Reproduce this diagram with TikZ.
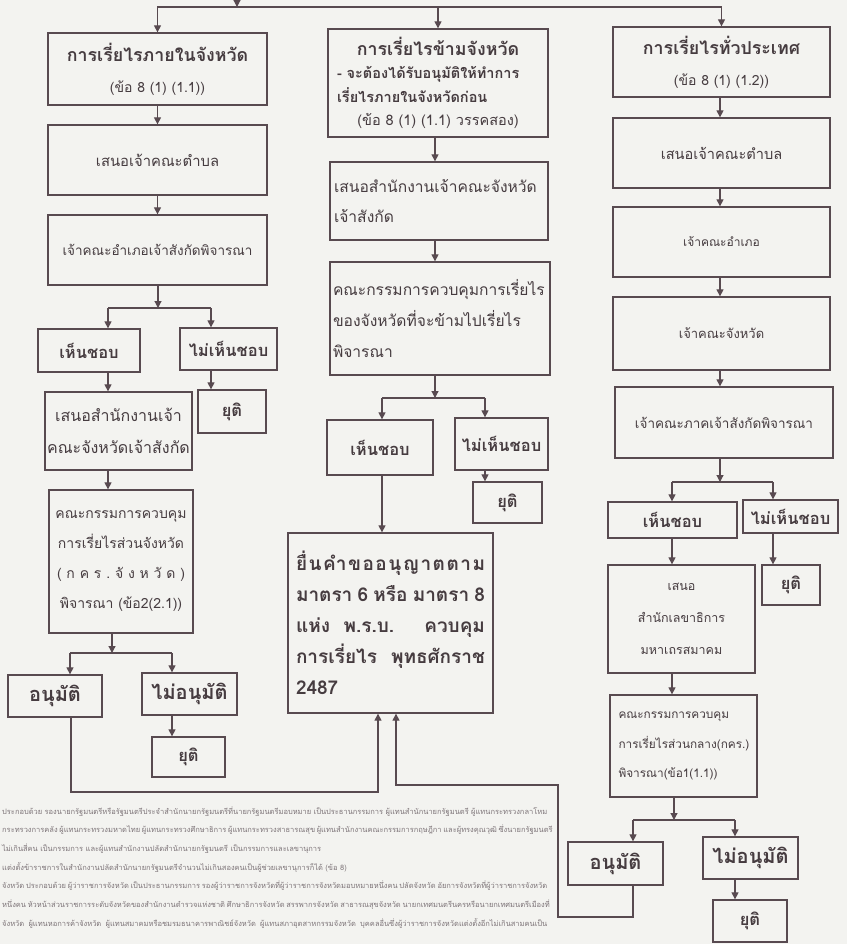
\documentclass[tikz,border=0pt]{standalone}
\usepackage{fontspec}
\newfontfamily\thai[Script=Thai]{Loma}
\usetikzlibrary{arrows.meta}
\definecolor{paper}{RGB}{243,243,240}
\definecolor{ink}{RGB}{70,60,64}
\definecolor{linec}{RGB}{88,74,80}
\definecolor{fine}{RGB}{125,116,120}
\newcommand{\spread}[2]{\makebox[#1][s]{#2}}
\newcommand{\tsize}[2]{\thai\fontsize{#1}{#2}\selectfont}
\tikzset{
  box/.style={draw=linec, line width=1.3pt, text=ink, align=center, inner sep=2pt,
    font=\tsize{13.5}{29}},
  hbox/.style={box, font=\thai\bfseries\fontsize{16.5}{20}\selectfont},
  bigbox/.style={box, font=\thai\bfseries\fontsize{20}{24}\selectfont},
  flow/.style={draw=linec, line width=1.2pt, -{Triangle[length=7pt,width=7pt]}},
  bar/.style={draw=linec, line width=1.2pt},
  note/.style={text=fine, anchor=west, inner sep=0pt, font=\tsize{7.5}{9}},
}
\begin{document}
\begin{tikzpicture}[x=1pt,y=-1pt]
\useasboundingbox[fill=paper] (0,0) rectangle (847,944);
\clip (0,0) rectangle (847,944);

% left column
\node[box, minimum width=219pt, minimum height=72pt, font=\tsize{14}{29}] (l1) at (157.5,69)
  {{\bfseries\fontsize{17.8}{20}\selectfont การเรี่ยไรภายในจังหวัด}\\[2pt] (ข้อ 8 (1) (1.1))};
\node[box, minimum width=219pt, minimum height=70pt, font=\tsize{14.8}{29}] (l2) at (157.5,160) {เสนอเจ้าคณะตำบล};
\node[box, minimum width=219pt, minimum height=70pt] (l3) at (157.5,250) {เจ้าคณะอำเภอเจ้าสังกัดพิจารณา};
\node[hbox, minimum width=102pt, minimum height=43pt] (l4) at (89,350.5) {เห็นชอบ};
\node[hbox, minimum width=97pt, minimum height=42pt] (l5) at (228.5,349) {ไม่เห็นชอบ};
\node[hbox, minimum width=68pt, minimum height=43pt] (l6) at (232,411.5) {ยุติ};
\node[box, minimum width=147pt, minimum height=78pt, font=\tsize{16}{32}] (l7) at (118.5,431)
  {เสนอสำนักงานเจ้า\\คณะจังหวัดเจ้าสังกัด};
\node[box, minimum width=144pt, minimum height=143pt, font=\tsize{14}{30}] (l8) at (121,561.5)
  {คณะกรรมการควบคุม\\การเรี่ยไรส่วนจังหวัด\\
   \spread{128pt}{(\hfil ก\hfil ค\hfil ร\hfil .\hfil จั\hfil ง\hfil ห\hfil วั\hfil ด\hfil )}\\
   พิจารณา (ข้อ2(2.1))};
\node[bigbox, minimum width=94pt, minimum height=42pt] (l9) at (55,696) {อนุมัติ};
\node[bigbox, minimum width=95pt, minimum height=42pt] (l10) at (189.5,694) {ไม่อนุมัติ};
\node[hbox, minimum width=73pt, minimum height=40pt] (l11) at (188.5,757) {ยุติ};

% centre column
\node[box, minimum width=220pt, minimum height=108pt, font=\tsize{14.5}{23.5}] (c1) at (438,83)
  {{\bfseries\fontsize{17.8}{20}\selectfont การเรี่ยไรข้ามจังหวัด}\\
   \makebox[202pt][l]{\bfseries - จะต้องได้รับอนุมัติให้ทำการ}\\
   \makebox[202pt][l]{\bfseries เรี่ยไรภายในจังหวัดก่อน}\\
   (ข้อ 8 (1) (1.1) วรรคสอง)};
\node[box, align=left, text width=210pt, minimum width=218pt, minimum height=78pt, font=\tsize{15.6}{30}] (c2) at (439,201)
  {เสนอสำนักงานเจ้าคณะจังหวัด\\เจ้าสังกัด};
\node[box, align=left, text width=214pt, minimum width=220pt, minimum height=113pt, font=\tsize{15.6}{31}] (c3) at (440,318.5)
  {คณะกรรมการควบคุมการเรี่ยไร\\ของจังหวัดที่จะข้ามไปเรี่ยไร\\พิจารณา};
\node[hbox, minimum width=106pt, minimum height=55pt] (c4) at (380,447.5) {เห็นชอบ};
\node[hbox, minimum width=93pt, minimum height=52pt] (c5) at (501.5,444) {ไม่เห็นชอบ};
\node[hbox, minimum width=69pt, minimum height=41pt] (c6) at (507.5,502.5) {ยุติ};
\node[box, minimum width=205pt, minimum height=180pt, font=\thai\bfseries\fontsize{19}{31}\selectfont] (big) at (390.5,623)
  {\spread{189pt}{ยื่\hfil น\hfil คำ\hfil ข\hfil อ\hfil อ\hfil นุ\hfil ญ\hfil า\hfil ต\hfil ต\hfil า\hfil ม}\\
   \spread{189pt}{มาตรา 6 หรือ มาตรา 8}\\
   \spread{189pt}{แห่ง พ.ร.บ. ควบคุม}\\
   \spread{189pt}{การเรี่ยไร พุทธศักราช}\\
   \makebox[189pt][l]{2487}};

% right column
\node[box, minimum width=217pt, minimum height=70pt, font=\tsize{14}{29}] (r1) at (721.5,62)
  {{\bfseries\fontsize{17.8}{20}\selectfont การเรี่ยไรทั่วประเทศ}\\[2pt] (ข้อ 8 (1) (1.2))};
\node[box, minimum width=217pt, minimum height=70pt, font=\tsize{14.6}{29}] (r2) at (721.5,153) {เสนอเจ้าคณะตำบล};
\node[box, minimum width=217pt, minimum height=70pt, font=\tsize{12}{29}] (r3) at (721.5,242) {เจ้าคณะอำเภอ};
\node[box, minimum width=217pt, minimum height=73pt, font=\tsize{13}{29}] (r4) at (721.5,333.5) {เจ้าคณะจังหวัด};
\node[box, minimum width=218pt, minimum height=71pt] (r5) at (724,422.5) {เจ้าคณะภาคเจ้าสังกัดพิจารณา};
\node[hbox, minimum width=129pt, minimum height=36pt] (r6) at (672.5,520) {เห็นชอบ};
\node[hbox, minimum width=95pt, minimum height=33pt] (r7) at (790.5,516.5) {ไม่เห็นชอบ};
\node[hbox, minimum width=58pt, minimum height=40pt] (r8) at (791,585) {ยุติ};
\node[box, minimum width=147pt, minimum height=108pt, font=\tsize{12.5}{32}] (r9) at (681.5,619)
  {เสนอ\\สำนักเลขาธิการ\\มหาเถรสมาคม};
\node[box, align=left, text width=130pt, minimum width=147pt, minimum height=102pt, font=\tsize{11.8}{29.5}] (r10) at (683.5,746)
  {คณะกรรมการควบคุม\\การเรี่ยไรส่วนกลาง(กคร.)\\พิจารณา(ข้อ1(1.1))};
\node[bigbox, minimum width=95pt, minimum height=43pt] (r11) at (615.5,863.5) {อนุมัติ};
\node[bigbox, minimum width=95pt, minimum height=42pt] (r12) at (750.5,858) {ไม่อนุมัติ};
\node[hbox, minimum width=74pt, minimum height=42pt] (r13) at (750,921) {ยุติ};

% top feed
\coordinate (feed) at (237,-12);
\coordinate (tj) at (237,7);
\draw[flow] (feed) -- (tj);
\draw[flow] (tj) -| (l1.north);
\draw[flow] (tj) -| (r1.north);
\draw[flow] (c1.north |- tj) -- (c1.north);

% left connectors
\coordinate (lj) at (158,308);
\coordinate (lja) at (108,308);
\coordinate (ljb) at (211,308);
\draw[flow] (l1.south) -- (l2.north);
\draw[flow] (l2.south) -- (l3.north);
\draw[flow] (l3.south -| lj) -- (lj);
\draw[bar] (lja) -- (ljb);
\draw[flow] (lja) -- (lja |- l4.north);
\draw[flow] (ljb) -- (ljb |- l5.north);
\draw[flow] (l5.south -| ljb) -- (ljb |- l6.north);
\draw[flow] (l4.south -| lja) -- (lja |- l7.north);
\draw[flow] (l7.south -| lja) -- (lja |- l8.north);
\coordinate (lk) at (112,653);
\coordinate (lka) at (70,653);
\coordinate (lkb) at (172,653);
\draw[flow] (l8.south -| lk) -- (lk);
\draw[bar] (lka) -- (lkb);
\draw[flow] (lka) -- (lka |- l9.north);
\draw[flow] (lkb) -- (lkb |- l10.north);
\draw[flow] (l10.south -| lkb) -- (lkb |- l11.north);
\coordinate (lret) at (71,792);
\coordinate (lup) at (378,792);
\draw[flow] (l9.south -| lret) -- (lret) -- (lup) -- (lup |- big.south);

% centre connectors
\coordinate (cj) at (435,398);
\coordinate (cja) at (382,398);
\coordinate (cjb) at (485,398);
\draw[flow] (c1.south -| cj) -- (cj |- c2.north);
\draw[flow] (c2.south -| cj) -- (cj |- c3.north);
\draw[flow] (c3.south -| cj) -- (cj);
\draw[bar] (cja) -- (cjb);
\draw[flow] (cja) -- (cja |- c4.north);
\draw[flow] (cjb) -- (cjb |- c5.north);
\draw[flow] (c5.south -| cjb) -- (cjb |- c6.north);
\draw[flow] (c4.south -| cja) -- (cja |- big.north);

% right connectors
\coordinate (rj) at (720,482);
\coordinate (rja) at (672,482);
\coordinate (rjb) at (773,482);
\draw[flow] (r1.south -| rj) -- (rj |- r2.north);
\draw[flow] (r2.south -| rj) -- (rj |- r3.north);
\draw[flow] (r3.south -| rj) -- (rj |- r4.north);
\draw[flow] (r4.south -| rj) -- (rj |- r5.north);
\draw[flow] (r5.south -| rj) -- (rj);
\draw[bar] (rja) -- (rjb);
\draw[flow] (rja) -- (rja |- r6.north);
\draw[flow] (rjb) -- (rjb |- r7.north);
\draw[flow] (r7.south -| rjb) -- (rjb |- r8.north);
\draw[flow] (r6.south -| rja) -- (rja |- r9.north);
\draw[flow] (r9.south -| rja) -- (rja |- r10.north);
\coordinate (rk) at (674,820);
\coordinate (rka) at (633,820);
\coordinate (rkb) at (735,820);
\draw[flow] (r10.south -| rk) -- (rk);
\draw[bar] (rka) -- (rkb);
\draw[flow] (rka) -- (rka |- r11.north);
\draw[flow] (rkb) -- (rkb |- r12.north);
\draw[flow] (r12.south -| rkb) -- (rkb |- r13.north);
\coordinate (rret) at (633,917);
\coordinate (rbend) at (558,917);
\coordinate (rmid) at (558,785);
\coordinate (rup) at (396,785);
\draw[flow] (r11.south -| rret) -- (rret) -- (rbend) -- (rmid) -- (rup) -- (rup |- big.south);

% footnote
\node[note] (n1) at (2,812) {\spread{545pt}{ประกอบด้วย รองนายกรัฐมนตรีหรือรัฐมนตรีประจำสำนักนายกรัฐมนตรีที่นายกรัฐมนตรีมอบหมาย เป็นประธานกรรมการ ผู้แทนสำนักนายกรัฐมนตรี ผู้แทนกระทรวงกลาโหม}};
\node[note] (n2) at (2,830) {\spread{545pt}{กระทรวงการคลัง ผู้แทนกระทรวงมหาดไทย ผู้แทนกระทรวงศึกษาธิการ ผู้แทนกระทรวงสาธารณสุข ผู้แทนสำนักงานคณะกรรมการกฤษฎีกา และผู้ทรงคุณวุฒิ ซึ่งนายกรัฐมนตรี}};
\node[note] (n3) at (2,849) {ไม่เกินสี่คน เป็นกรรมการ และผู้แทนสำนักงานปลัดสำนักนายกรัฐมนตรี เป็นกรรมการและเลขานุการ};
\node[note] (n4) at (2,867) {แต่งตั้งข้าราชการในสำนักงานปลัดสำนักนายกรัฐมนตรีจำนวนไม่เกินสองคนเป็นผู้ช่วยเลขานุการก็ได้ (ข้อ 8)};
\node[note] (n5) at (2,886) {\spread{545pt}{จังหวัด ประกอบด้วย ผู้ว่าราชการจังหวัด เป็นประธานกรรมการ รองผู้ว่าราชการจังหวัดที่ผู้ว่าราชการจังหวัดมอบหมายหนึ่งคน ปลัดจังหวัด อัยการจังหวัดที่ผู้ว่าราชการจังหวัด}};
\node[note] (n6) at (2,905) {\spread{545pt}{หนึ่งคน หัวหน้าส่วนราชการระดับจังหวัดของสำนักงานตำรวจแห่งชาติ ศึกษาธิการจังหวัด สรรพากรจังหวัด สาธารณสุขจังหวัด นายกเทศมนตรีนครหรือนายกเทศมนตรีเมืองที่}};
\node[note] (n7) at (2,923) {\spread{545pt}{จังหวัด ผู้แทนหอการค้าจังหวัด ผู้แทนสมาคมหรือชมรมธนาคารพาณิชย์จังหวัด ผู้แทนสภาอุตสาหกรรมจังหวัด บุคคลอื่นซึ่งผู้ว่าราชการจังหวัดแต่งตั้งอีกไม่เกินสามคนเป็น}};
\end{tikzpicture}
\end{document}
